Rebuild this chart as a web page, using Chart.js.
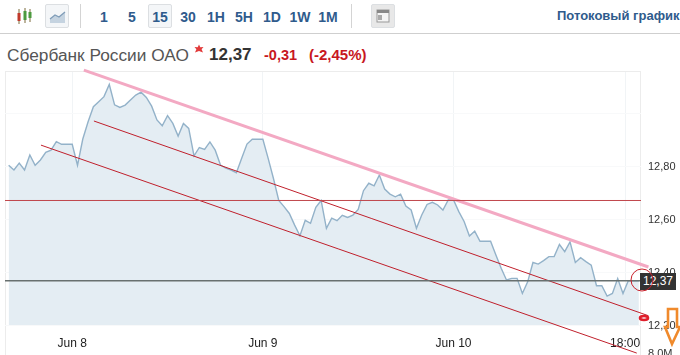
<!DOCTYPE html>
<html>
<head>
<meta charset="utf-8">
<script src="https://cdn.jsdelivr.net/npm/chart.js@4"></script>
<style>
    html, body { margin: 0; padding: 0; background: #fff; width: 680px; height: 355px; overflow: hidden; }
    body { position: relative; font-family: "Liberation Sans", Arial, sans-serif; }
    .abs { position: absolute; white-space: nowrap; }
    .tf { position: absolute; top: 9px; width: 28px; text-align: center; color: #2f5b8c; font-size: 14px; font-weight: bold; line-height: 16px; }
    .btn { position: absolute; top: 4px; width: 22px; height: 22px; background: #f4f6f8; border: 1px solid #dcdfe2; border-radius: 2px; }
    .sep { position: absolute; top: 4px; width: 1px; height: 24px; background: #d4d4d4; }
    #frame { position: absolute; left: 5px; top: 71px; width: 636px; height: 290px; border: 1px solid #ececec; box-sizing: border-box; }
    #chart { position: absolute; left: 0; top: 0; }
    #price { position: absolute; left: 640px; top: 273px; width: 36px; height: 17px; background: #333; color: #fff; font-size: 12px; line-height: 17px; text-align: center; }
    #overlay { position: absolute; left: 0; top: 0; }
</style>
</head>
<body>
<!-- toolbar -->
<svg class="abs" style="left:15px;top:6px" width="20" height="20">
    <path d="M4 3v15M10 2v15M15 3v13" stroke="#7a6a3a" stroke-width="1"/>
    <rect x="2.5" y="7" width="3" height="8" fill="#c0392b"/>
    <rect x="8.5" y="5" width="3" height="9" fill="#4c9a3f"/>
    <rect x="13.5" y="6" width="3" height="6" fill="#4c9a3f"/>
</svg>
<div class="btn" style="left:45px"></div>
<svg class="abs" style="left:45px;top:4px" width="24" height="24">
    <path d="M5 19V15L10 11L14 13L20 8V19Z" fill="#c5d3e0"/>
    <path d="M5 15L10 11L14 13L20 8" fill="none" stroke="#7f9cb8" stroke-width="1.3"/>
</svg>
<div class="sep" style="left:80px"></div>
<div class="btn" style="left:148px"></div>
<div id="tfs"></div>
<div class="sep" style="left:351px"></div>
<div class="btn" style="left:371px;background:#e8e8e8"></div>
<svg class="abs" style="left:371px;top:4px" width="24" height="24">
    <rect x="6" y="6" width="12" height="12" fill="#f4f4f4" stroke="#999"/>
    <rect x="6" y="6" width="12" height="3" fill="#888"/>
    <rect x="7" y="11" width="4" height="5" fill="#aaa"/>
</svg>
<div class="abs" style="left:557px;top:8px;color:#2f5b8c;font-size:13px;font-weight:bold;line-height:16px">Потоковый график</div>
<div class="abs" style="left:0;top:33px;width:680px;height:1px;background:#cfcfcf"></div>

<!-- header -->
<div class="abs" style="left:7px;top:45px;color:#555;font-size:17.3px;line-height:20px">Сбербанк России ОАО</div>
<svg class="abs" style="left:194px;top:44px" width="10" height="10">
    <path d="M5 0.5L6.3 3.2L9.5 3L7.6 5.2L9 8.5L5 7L1 8.5L2.4 5.2L0.5 3L3.7 3.2Z" fill="#e23b3b"/>
</svg>
<div class="abs" style="left:209px;top:45px;color:#333;font-size:17px;font-weight:bold;line-height:20px">12,37</div>
<div class="abs" style="left:264px;top:46px;color:#c8171e;font-size:14.5px;font-weight:bold;line-height:18px">-0,31</div>
<div class="abs" style="left:309px;top:46px;color:#c8171e;font-size:15px;font-weight:bold;line-height:18px">(-2,45%)</div>

<div id="frame"></div>
<canvas id="chart" width="680" height="355"></canvas>
<div id="price"></div>
<div class="abs" style="left:648px;top:347px;color:#333;font-size:11px;line-height:13px">8,0M</div>

<!-- hand drawn marks on top of the screenshot -->
<svg id="overlay" width="680" height="355">
    <circle cx="642" cy="280" r="11" fill="none" stroke="#c8202a" stroke-width="1"/>
    <ellipse cx="644" cy="318" rx="4" ry="2" fill="#fff" stroke="#e01e2b" stroke-width="2.6"/>
    <path d="M668 309H677V327H680L672 344L665 327H668Z" fill="none" stroke="#f08a2c" stroke-width="2.6"/>
</svg>

<script>
const timeframes = ['1', '5', '15', '30', '1H', '5H', '1D', '1W', '1M'];

const prices = [
    12.803, 12.785, 12.811, 12.785, 12.842, 12.803, 12.823, 12.852, 12.860, 12.892,
    12.882, 12.882, 12.882, 12.803, 12.902, 12.967, 13.024, 13.043, 13.062, 13.108,
    13.031, 13.021, 13.030, 13.049, 13.068, 13.079, 13.059, 13.026, 12.974, 12.952,
    12.990, 12.961, 12.913, 12.961, 12.942, 12.838, 12.870, 12.863, 12.891, 12.860,
    12.804, 12.792, 12.785, 12.775, 12.829, 12.883, 12.901, 12.901, 12.901, 12.829,
    12.753, 12.670, 12.647, 12.621, 12.577, 12.537, 12.595, 12.584, 12.644, 12.670,
    12.565, 12.603, 12.594, 12.614, 12.606, 12.615, 12.636, 12.707, 12.735, 12.725,
    12.766, 12.713, 12.694, 12.684, 12.694, 12.649, 12.634, 12.565, 12.615, 12.655,
    12.663, 12.653, 12.634, 12.672, 12.672, 12.628, 12.591, 12.536, 12.554, 12.516,
    12.516, 12.516, 12.464, 12.414, 12.370, 12.376, 12.376, 12.319, 12.363, 12.436,
    12.430, 12.443, 12.458, 12.458, 12.504, 12.477, 12.514, 12.436, 12.454, 12.439,
    12.426, 12.348, 12.348, 12.309, 12.319, 12.375, 12.319, 12.367, 12.367, 12.367
];

const xTickPlaces = [12, 48, 84, 116.4];
const xTickLabels = ['Jun 8', 'Jun 9', 'Jun 10', '18:00'];
const yTickValues = [12.2, 12.4, 12.6, 12.8, 13.0];

const lastPrice = 12.367;
const levelPrice = 12.67;
const pinkLine = [{ x: 14.2, y: 13.162 }, { x: 120.8, y: 12.419 }];
const upperChannel = [{ x: 16.1, y: 12.97 }, { x: 120.8, y: 12.235 }];
const lowerChannel = [{ x: 6.1, y: 12.879 }, { x: 118.6, y: 12.094 }];

const xMin = -0.69, xMax = 119.4, yMin = 12.2, yMax = 13.155;

function comma(v) {
    return v.toFixed(2).replace('.', ',');
}

// timeframe buttons
const tfs = document.getElementById('tfs');
timeframes.forEach((t, i) => {
    tfs.innerHTML += `<div class="tf" style="left:${90 + i * 28}px">${t}</div>`;
});
document.getElementById('price').textContent = comma(lastPrice);

function trend(data, color, width) {
    return { type: 'line', data: data, borderColor: color, borderWidth: width, pointRadius: 0, fill: false, clip: false, order: 1 };
}

new Chart(document.getElementById('chart').getContext('2d'), {
    type: 'line',
    data: {
        datasets: [
            {
                data: prices.map((p, i) => ({ x: i, y: p })),
                borderColor: '#93b2c9',
                borderWidth: 1.4,
                backgroundColor: '#e4edf3',
                fill: 'start',
                pointRadius: 0,
                tension: 0,
                order: 3
            },
            trend([{ x: xMin, y: levelPrice }, { x: xMax, y: levelPrice }], '#c0474c', 1),
            trend([{ x: xMin, y: lastPrice }, { x: xMax, y: lastPrice }], '#68706f', 1.6),
            trend(pinkLine, '#f3a9c3', 3),
            trend(upperChannel, '#c0202c', 1),
            trend(lowerChannel, '#c0202c', 1)
        ]
    },
    options: {
        responsive: false,
        animation: false,
        layout: { padding: { left: 5, top: 72, right: 0, bottom: 0 } },
        plugins: { legend: { display: false }, tooltip: { enabled: false } },
        scales: {
            x: {
                type: 'linear',
                min: xMin,
                max: xMax,
                border: { display: false },
                grid: { color: '#f1f4f6', drawTicks: false },
                afterBuildTicks: axis => { axis.ticks = xTickPlaces.map(v => ({ value: v })); },
                afterFit: axis => { axis.height = 30; },
                ticks: {
                    autoSkip: false,
                    maxRotation: 0,
                    padding: 11,
                    color: '#222',
                    font: { family: 'Liberation Sans', size: 12 },
                    callback: v => xTickLabels[xTickPlaces.indexOf(v)]
                }
            },
            y: {
                position: 'right',
                min: yMin,
                max: yMax,
                border: { display: false },
                grid: { color: '#f8f9fa', drawTicks: false },
                afterBuildTicks: axis => { axis.ticks = yTickValues.map(v => ({ value: v })); },
                afterFit: axis => { axis.width = 39; },
                ticks: {
                    padding: 7,
                    labelOffset: 1,
                    color: '#333',
                    font: { family: 'Liberation Sans', size: 11 },
                    callback: v => (v > 12.9 ? '' : comma(v))
                }
            }
        }
    }
});
</script>
</body>
</html>
